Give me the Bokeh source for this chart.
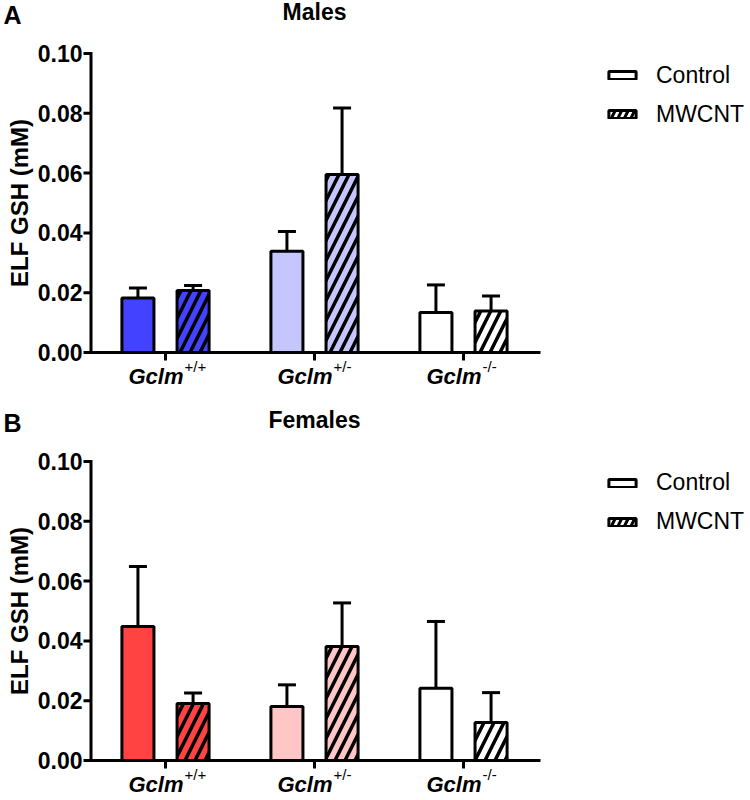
import math
from bokeh.plotting import figure
from bokeh.layouts import column
from bokeh.models import (Range1d, Label, Legend, LegendItem, Whisker, TeeHead, ColumnDataSource)
from bokeh.core.properties import value
from bokeh.embed import file_html
from bokeh.resources import INLINE

# ---------------- data ----------------
genotypes = ["+/+", "+/-", "-/-"]
gene = "Gclm"
groups = [0, 1, 2]
series = ["Control", "MWCNT"]

male_control = [0.0182, 0.0339, 0.0134]
male_control_sem = [0.0034, 0.0066, 0.0092]
male_mwcnt = [0.0207, 0.0595, 0.0139]
male_mwcnt_sem = [0.0017, 0.0223, 0.0050]

female_control = [0.0448, 0.0181, 0.0242]
female_control_sem = [0.0201, 0.0072, 0.0223]
female_mwcnt = [0.0191, 0.0381, 0.0127]
female_mwcnt_sem = [0.0035, 0.0146, 0.0100]

male_colors = ["#4242ff", "#c6c6ff", "#ffffff"]
female_colors = ["#ff4242", "#ffc6c6", "#ffffff"]

y_ticks = [0.0, 0.02, 0.04, 0.06, 0.08, 0.10]
y_label = "ELF GSH (mM)"

# ---------------- layout constants ----------------
FNAME = "Liberation Sans"
FONT = value(FNAME)
W = 748
PPX = 149.0        # pixels per group
X0 = 165.0         # pixel position of first group
PPY = 2990.0       # pixels per unit on y
OFFSET = 0.185
BAR_W = 0.215


def dx(px):
    return px / PPX


def dy(px):
    return px / PPY


def make_panel(letter, title, control, csem, mwcnt, msem, colors, height, zero_px,
               legend_top):
    x_start = -X0 / PPX
    x_end = (W - X0) / PPX
    y_start = -(height - zero_px) / PPY
    y_end = zero_px / PPY
    p = figure(width=W, height=height, x_range=Range1d(x_start, x_end),
               y_range=Range1d(y_start, y_end), x_axis_location=None, y_axis_location=None,
               min_border=0, output_backend="svg", toolbar_location=None)
    p.grid.visible = False
    p.outline_line_color = None
    p.background_fill_color = "white"
    p.border_fill_color = "white"

    y_top = max(y_ticks)
    ax_x = -0.5                       # y-axis position
    tick_x = ax_x - dx(7.5)

    # bars
    src_c = ColumnDataSource(dict(x=[g - OFFSET for g in groups], top=control,
                                  upper=[v + e for v, e in zip(control, csem)], color=colors))
    src_m = ColumnDataSource(dict(x=[g + OFFSET for g in groups], top=mwcnt,
                                  upper=[v + e for v, e in zip(mwcnt, msem)], color=colors))
    for src in (src_c, src_m):
        p.add_layout(Whisker(base="x", lower="top", upper="upper", source=src,
                             line_width=3, line_color="black", level="glyph",
                             upper_head=TeeHead(size=18, line_width=3, line_color="black"),
                             lower_head=None))
    p.vbar(x="x", top="top", width=BAR_W, source=src_c, fill_color="color",
           line_color="black", line_width=3)
    p.vbar(x="x", top="top", width=BAR_W, source=src_m, fill_color="color",
           line_color="black", line_width=3, hatch_pattern="/", hatch_color="black",
           hatch_weight=3.5, hatch_scale=20)

    # axes (drawn through the plot's scales)
    p.segment(x0=[ax_x], y0=[0], x1=[ax_x], y1=[y_top + dy(1.5)], line_width=3,
              line_color="black")
    p.segment(x0=[tick_x] * len(y_ticks), y0=y_ticks, x1=[ax_x] * len(y_ticks), y1=y_ticks,
              line_width=3, line_color="black")
    p.segment(x0=[ax_x], y0=[0], x1=[(540 - X0) / PPX], y1=[0], line_width=3,
              line_color="black")
    p.segment(x0=groups, y0=[0] * len(groups), x1=groups, y1=[-dy(8)] * len(groups),
              line_width=3, line_color="black")
    p.text(x=[tick_x] * len(y_ticks), y=y_ticks, text=[f"{t:.2f}" for t in y_ticks],
           x_offset=-1, text_align="right", text_baseline="middle", text_font=FONT,
           text_font_style="bold", text_font_size="23px", text_color="black")
    p.add_layout(Label(x=19, y=(min(y_ticks) + max(y_ticks)) / 2, x_units="screen",
                       y_units="data", text=y_label, angle=math.pi / 2, text_align="center",
                       text_baseline="middle", text_font=FNAME, text_font_style="bold",
                       text_font_size="24px", text_color="black"))

    # category labels: italic gene + superscript genotype
    p.text(x=groups, y=[0] * len(groups), text=[gene] * len(groups), x_offset=18, y_offset=24,
           text_align="right", text_baseline="alphabetic", text_font=FONT,
           text_font_style="bold italic", text_font_size="22px", text_color="black")
    p.text(x=groups, y=[0] * len(groups), text=genotypes, x_offset=19, y_offset=14,
           text_align="left", text_baseline="alphabetic", text_font=FONT,
           text_font_size="15px", text_color="black")

    # legend (dummy renderers with no drawable bar)
    nan = float("nan")
    lc = p.vbar(x=[0], top=[nan], bottom=[nan], width=BAR_W, fill_color="white",
                line_color="black", line_width=3)
    lm = p.vbar(x=[0], top=[nan], bottom=[nan], width=BAR_W, fill_color="white",
                line_color="black", line_width=3, hatch_pattern="/", hatch_color="black",
                hatch_weight=3, hatch_scale=13)
    item_h, spacing = 27, 12
    leg_h = 2 * item_h + spacing
    legend = Legend(items=[LegendItem(label=series[0], renderers=[lc]),
                           LegendItem(label=series[1], renderers=[lm])],
                    location=(605, height - legend_top - leg_h), glyph_width=34, glyph_height=10,
                    label_height=item_h, label_standoff=17, spacing=spacing, padding=0, margin=0,
                    border_line_color=None, background_fill_alpha=0,
                    label_text_font=FNAME, label_text_font_size="23px",
                    label_text_color="black")
    p.add_layout(legend)

    # title and panel letter
    p.add_layout(Label(x=314, y=height - (zero_px - 341), x_units="screen", y_units="screen",
                       text=title, text_align="center", text_baseline="alphabetic",
                       text_font=FNAME, text_font_style="bold", text_font_size="23px",
                       text_color="black"))
    p.add_layout(Label(x=3, y=height - (zero_px - 338), x_units="screen", y_units="screen",
                       text=letter, text_align="left", text_baseline="alphabetic",
                       text_font=FNAME, text_font_style="bold", text_font_size="25px",
                       text_color="black"))
    return p


p1 = make_panel("A", "Males", male_control, male_control_sem, male_mwcnt, male_mwcnt_sem,
                male_colors, height=398, zero_px=352, legend_top=61.5)
p2 = make_panel("B", "Females", female_control, female_control_sem, female_mwcnt,
                female_mwcnt_sem, female_colors, height=400, zero_px=362, legend_top=71)

layout = column(p1, p2, spacing=0)
open("out.html", "w").write(file_html(layout, INLINE))
